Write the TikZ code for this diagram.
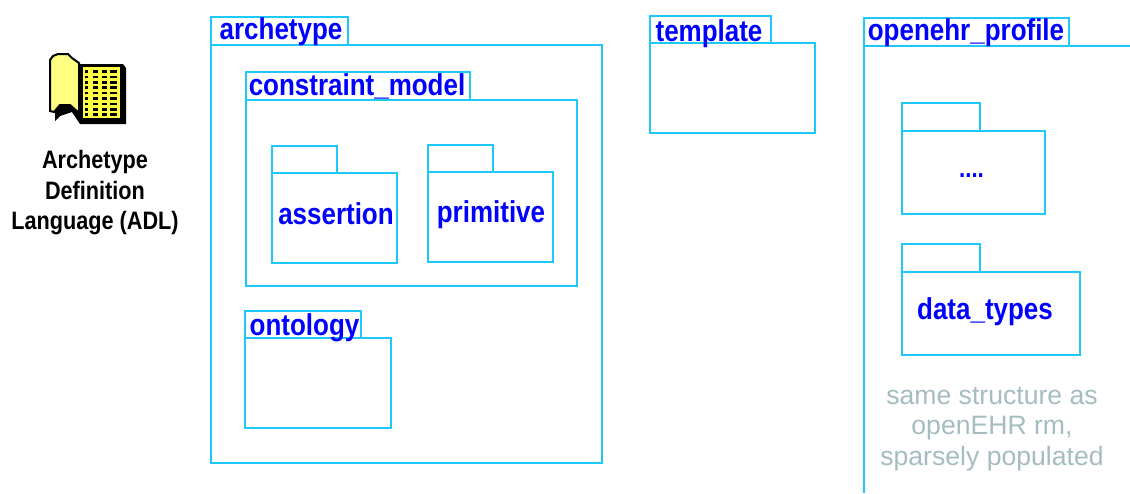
\documentclass[tikz,border=0pt]{standalone}
\usepackage{fontspec}
\setmainfont{Liberation Sans}
\newfontfamily\narrowbold[FakeStretch=0.86,BoldFont={Liberation Sans Bold}]{Liberation Sans Bold}
\definecolor{pkgline}{RGB}{30,200,248}
\definecolor{notegray}{RGB}{165,188,192}
\definecolor{pageyellow}{RGB}{255,255,130}
\definecolor{leafyellow}{RGB}{255,255,70}
\begin{document}
\begin{tikzpicture}[x=1pt,y=-1pt]
    \tikzstyle{pkg}=[draw=pkgline,line width=2pt,rectangle,anchor=north west,outer sep=0pt,inner sep=0pt]
    \tikzstyle{pkgname}=[text=blue,font=\narrowbold\fontsize{30.2}{32}\selectfont,text height=22pt,text depth=6pt,yshift=-2pt]
    \tikzstyle{booktext}=[font=\narrowbold\fontsize{25.2}{30.5}\selectfont,align=center]
    \tikzstyle{note}=[text=notegray,font=\fontsize{26.6}{30.5}\selectfont,align=center]
    \useasboundingbox (0,0) rectangle (1130,493);
    % book icon
    \fill (80,64) -- (123,64) -- (126,68) -- (126,124) -- (80,124) -- (72,112) -- (60,116) -- (55,121) -- (55,108) -- (70,100) -- cycle;
    \fill[leafyellow] (83,67) rectangle (120,118);
    \foreach \row in {0,...,8} {
        \foreach \col/\wid in {85/3,93/5,102/5,110/7} {
            \fill (\col,70.2+5.4*\row) rectangle ++(\wid,2.6);
        }
    }
    \draw[fill=pageyellow,line width=2pt] (50,111) -- (50,60) -- (53,56) -- (58,54) -- (68,54) -- (72,58) -- (79,63) -- (79,113) -- (70,105) -- (60,105) -- (54,112) -- cycle;
    \node[booktext] (adl) at (95,193) {Archetype\\Definition\\Language (ADL)};
    % archetype
    \node[pkg,minimum width=137pt,minimum height=28pt] (archetypetab) at (211,17) {};
    \node[pkg,minimum width=391pt,minimum height=418pt] (archetype) at (211,45) {};
    \node[pkgname] (archetypename) at (281,29.5) {archetype};
    % constraint_model
    \node[pkg,minimum width=224pt,minimum height=28pt] (constrainttab) at (246,72) {};
    \node[pkg,minimum width=331pt,minimum height=186pt] (constraint) at (246,100) {};
    \node[pkgname] (constraintname) at (357,85.5) {constraint\_model};
    % assertion, primitive
    \node[pkg,minimum width=65pt,minimum height=27pt] (assertiontab) at (272,146) {};
    \node[pkg,minimum width=125pt,minimum height=90pt] (assertion) at (272,173) {};
    \node[pkgname] (assertionname) at (336,214) {assertion};
    \node[pkg,minimum width=65pt,minimum height=27pt] (primitivetab) at (428,145) {};
    \node[pkg,minimum width=125pt,minimum height=90pt] (primitive) at (428,172) {};
    \node[pkgname] (primitivename) at (491,212) {primitive};
    % ontology
    \node[pkg,minimum width=116pt,minimum height=27pt] (ontologytab) at (245,311) {};
    \node[pkg,minimum width=146pt,minimum height=90pt] (ontology) at (245,338) {};
    \node[pkgname] (ontologyname) at (304.5,325) {ontology};
    % template
    \node[pkg,minimum width=121pt,minimum height=27pt] (templatetab) at (650,16) {};
    \node[pkg,minimum width=165pt,minimum height=90pt] (template) at (650,43) {};
    \node[pkgname] (templatename) at (709,31) {template};
    % openehr_profile
    \node[pkg,minimum width=205pt,minimum height=28pt] (profiletab) at (864,18) {};
    \coordinate (profileright) at (1130,46);
    \coordinate (profilecorner) at (864,46);
    \coordinate (profilebottom) at (864,493);
    \draw[draw=pkgline,line width=2pt] (profileright) -- (profilecorner) -- (profilebottom);
    \node[pkgname] (profilename) at (966,30) {openehr\_profile};
    % dots, data_types
    \node[pkg,minimum width=78pt,minimum height=28pt] (dotstab) at (902,103) {};
    \node[pkg,minimum width=143pt,minimum height=83pt] (dots) at (902,131) {};
    \node[pkgname,font=\narrowbold\fontsize{26}{28}\selectfont] (dotsname) at (971.5,167) {....};
    \node[pkg,minimum width=78pt,minimum height=28pt] (datatypestab) at (902,244) {};
    \node[pkg,minimum width=178pt,minimum height=83pt] (datatypes) at (902,272) {};
    \node[pkgname] (datatypesname) at (985,309) {data\_types};
    \node[note] (samenote) at (992,429) {same structure as\\openEHR rm,\\sparsely populated};
\end{tikzpicture}
\end{document}
